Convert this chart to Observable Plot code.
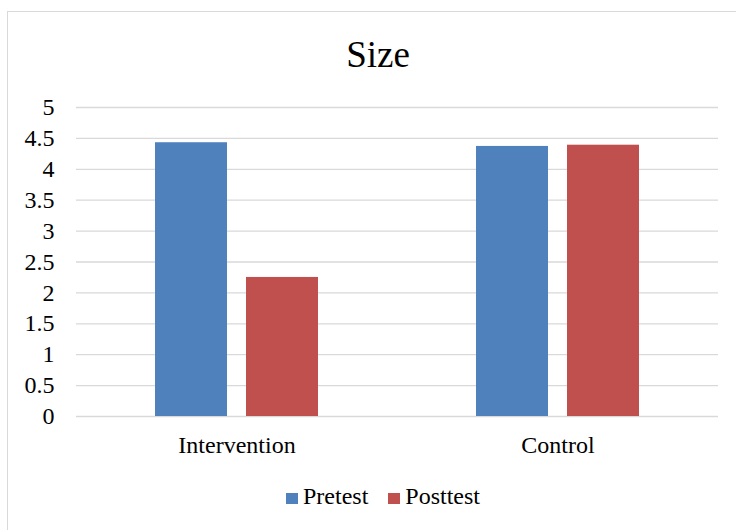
<!DOCTYPE html>
<html>
<head>
<meta charset="utf-8">
<script src="https://cdn.jsdelivr.net/npm/d3@7"></script>
<script src="https://cdn.jsdelivr.net/npm/@observablehq/plot@0.6"></script>
<style>
  body { margin: 0; background: #fff; }
  #wrap { position: relative; width: 736px; height: 530px; overflow: hidden; font-family: "Liberation Serif", "Times New Roman", serif; }
  #frame { position: absolute; left: 7px; top: 11px; width: 760px; height: 540px; border: 1.5px solid #d9d9d9; box-sizing: border-box; }
  #title { position: absolute; left: 0; width: 756px; top: 36px; text-align: center; font-size: 37px; line-height: 37px; color: #000; white-space: nowrap; }
  #chart { position: absolute; left: 0; top: 90px; }
  #legend { position: absolute; left: 0; width: 766px; top: 484px; text-align: center; font-size: 24px; line-height: 24px; color: #000; white-space: nowrap; }
  .li { display: inline-block; }
  .li + .li { margin-left: 20px; }
  .sw { display: inline-block; width: 12px; height: 11px; margin-right: 5px; vertical-align: 0px; }
</style>
</head>
<body>
<div id="wrap">
  <div id="frame"></div>
  <div id="title">Size</div>
  <div id="chart"></div>
  <div id="legend"></div>
</div>
<script>
const groups = ["Intervention", "Control"];
const seriesNames = ["Pretest", "Posttest"];
const pretest = [4.43, 4.37];
const posttest = [2.25, 4.39];
const colors = ["#4f81bd", "#c0504d"];
const yTicks = [0, 0.5, 1, 1.5, 2, 2.5, 3, 3.5, 4, 4.5, 5];

const data = [];
groups.forEach((g, i) => {
  data.push({group: g, series: seriesNames[0], value: pretest[i]});
  data.push({group: g, series: seriesNames[1], value: posttest[i]});
});

const chart = Plot.plot({
  width: 736,
  height: 380,
  marginTop: 17,
  marginBottom: 54,
  marginLeft: 76,
  marginRight: 18,
  style: { fontFamily: "'Liberation Serif', 'Times New Roman', serif", fontSize: "24px", color: "#000", background: "transparent", overflow: "visible" },
  fx: { domain: groups, padding: 0, label: null, axis: null },
  x: { domain: seriesNames, paddingInner: 0.2088, paddingOuter: 0.868, axis: null },
  y: { domain: [0, 5], label: null, axis: null },
  color: { domain: seriesNames, range: colors },
  marks: [
    Plot.ruleY(yTicks, { stroke: "#d9d9d9", strokeWidth: 1.3, strokeOpacity: 1 }),
    Plot.barY(data, { fx: "group", x: "series", y: "value", fill: "series" }),
    Plot.axisY({ ticks: yTicks, tickSize: 0, tickPadding: 22, tickFormat: d => String(d), fontSize: 24, label: null }),
    Plot.axisFx({ anchor: "bottom", tickSize: 0, tickPadding: 19, label: null, fontSize: 24 })
  ]
});
document.getElementById("chart").appendChild(chart);

const legend = document.getElementById("legend");
seriesNames.forEach((s, i) => {
  const item = document.createElement("span");
  item.className = "li";
  const sw = document.createElement("span");
  sw.className = "sw";
  sw.style.background = colors[i];
  item.appendChild(sw);
  item.appendChild(document.createTextNode(s));
  legend.appendChild(item);
});
</script>
</body>
</html>
